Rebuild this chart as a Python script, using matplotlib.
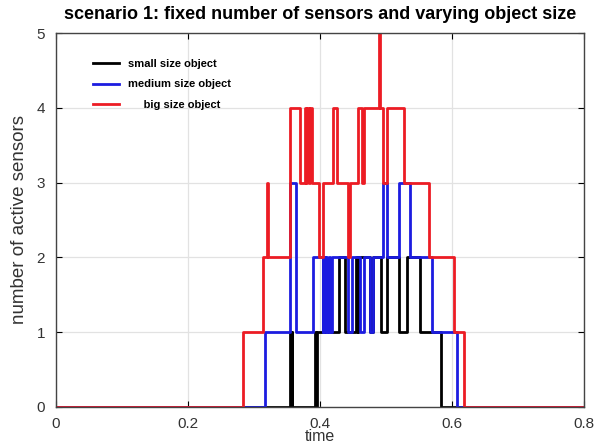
import matplotlib
matplotlib.use("Agg")
import matplotlib.pyplot as plt

# step change points (time, number of active sensors)
small_t = [0, 0.354, 0.356, 0.357, 0.358, 0.393, 0.394, 0.395, 0.429, 0.438, 0.455, 0.457,
           0.458, 0.476, 0.481, 0.492, 0.502, 0.520, 0.532, 0.552, 0.584, 0.8]
small_n = [0, 1, 0, 1, 0, 1, 0, 1, 2, 1, 2, 1,
           2, 1, 2, 1, 2, 1, 2, 1, 0, 0]

medium_t = [0, 0.317, 0.355, 0.364, 0.390, 0.404, 0.405, 0.407, 0.409, 0.411, 0.413, 0.415,
            0.418, 0.442, 0.449, 0.461, 0.467, 0.475, 0.481, 0.495, 0.502, 0.519, 0.537,
            0.569, 0.607, 0.8]
medium_n = [0, 1, 3, 1, 2, 1, 2, 1, 2, 1, 2, 1,
            2, 1, 2, 1, 2, 1, 2, 3, 2, 3, 2,
            1, 0, 0]

big_t = [0, 0.284, 0.313, 0.320, 0.3215, 0.354, 0.370, 0.378, 0.379, 0.381, 0.384, 0.385,
         0.388, 0.398, 0.404, 0.420, 0.426, 0.442, 0.446, 0.458, 0.463, 0.466, 0.4895,
         0.4915, 0.496, 0.502, 0.527, 0.565, 0.603, 0.618, 0.8]
big_n = [0, 1, 2, 3, 2, 4, 3, 4, 3, 4, 3, 4,
         3, 2, 3, 4, 3, 2, 3, 4, 3, 4, 5,
         4, 3, 4, 3, 2, 1, 0, 0]

labels = ["small size object", "medium size object", "     big size object"]
colors = ["black", "#1c1ce0", "#ec1c24"]

plt.rcParams['font.family'] = ['Liberation Sans', 'DejaVu Sans']

fig = plt.figure(figsize=(5.99, 4.43), dpi=100)
ax = fig.add_axes([0.0935, 0.0813, 0.8815, 0.8442])

ax.plot(small_t, small_n, drawstyle='steps-post', color=colors[0], lw=2, label=labels[0])
ax.plot(medium_t, medium_n, drawstyle='steps-post', color=colors[1], lw=2, label=labels[1])
ax.plot(big_t, big_n, drawstyle='steps-post', color=colors[2], lw=2, label=labels[2])

ax.set_xlim(0, 0.8)
ax.set_ylim(0, 5)
ax.set_xticks([0, 0.2, 0.4, 0.6, 0.8])
ax.set_xticklabels(['0', '0.2', '0.4', '0.6', '0.8'])
ax.set_yticks([0, 1, 2, 3, 4, 5])
ax.grid(True, color='#e2e2e2', lw=0.9)
ax.set_axisbelow(True)
ax.tick_params(direction='in', top=True, right=True, length=4, width=0.8,
               labelsize=11, labelcolor='#333333')
ax.tick_params(axis='x', pad=7)
ax.tick_params(axis='y', pad=8)
for s in ax.spines.values():
    s.set_color('#444444')
    s.set_linewidth(1)

ax.set_title("scenario 1: fixed number of sensors and varying object size",
             fontsize=13, fontweight='bold', pad=10)
ax.set_xlabel("time", fontsize=11.5, color='#333333', labelpad=-1)
ax.set_ylabel("number of active sensors", fontsize=13.5, color='#333333', labelpad=6)

leg = ax.legend(loc='upper left', bbox_to_anchor=(0.07, 0.93), frameon=False,
                borderpad=0, borderaxespad=0, handlelength=2.35, handletextpad=0.8,
                labelspacing=0.92, prop={'size': 8, 'weight': 'bold'})

fig.savefig('out.png', dpi=100)
